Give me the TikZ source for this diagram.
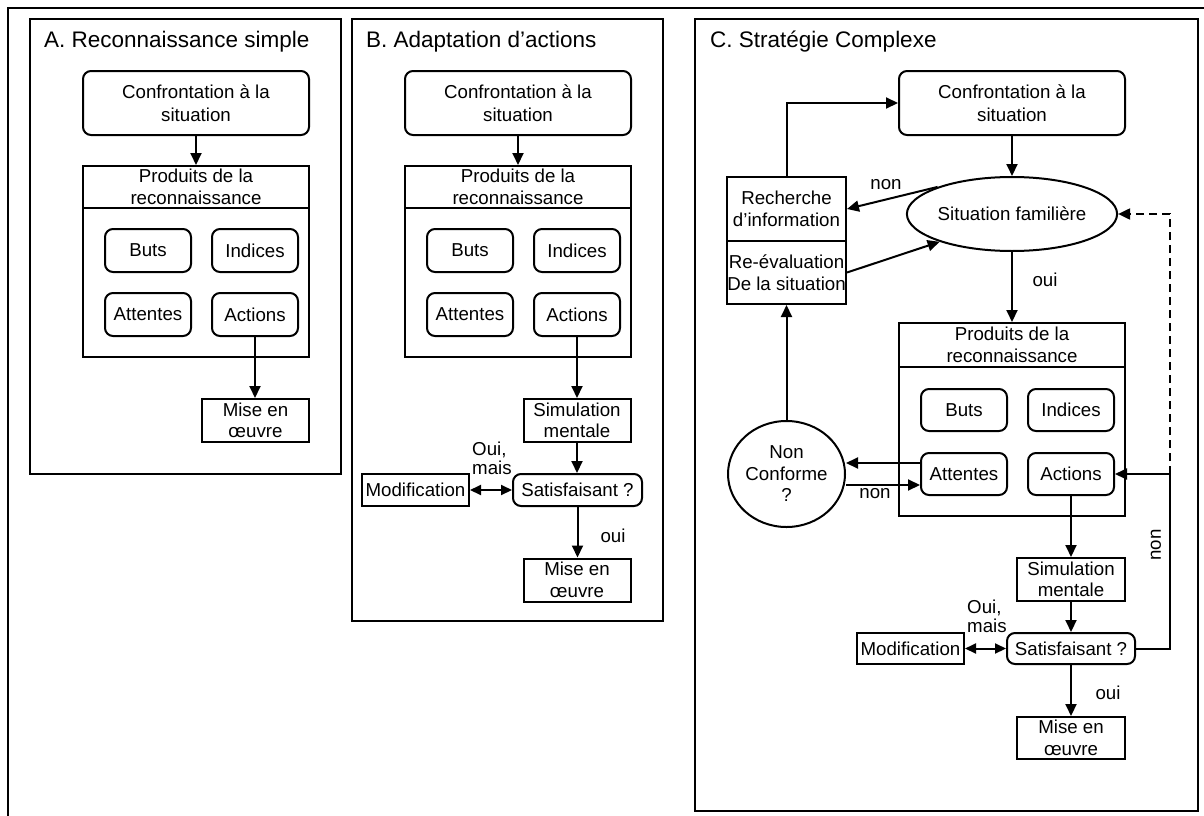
\documentclass[tikz,border=0pt]{standalone}
\usepackage{fontspec}
\setmainfont{Liberation Sans}
\usetikzlibrary{arrows.meta,shapes.geometric}
\newcommand\bfs{\fontsize{18.7}{21.5}\selectfont}
\newcommand\cfs{\fontsize{18.7}{23.5}\selectfont}
\newcommand\tfs{\fontsize{22.5}{27}\selectfont}
\begin{document}
\begin{tikzpicture}[x=1pt,y=-1pt,
  panel/.style={draw, line width=2pt},
  bx/.style={draw, line width=2pt, inner sep=0pt, align=center, font=\bfs},
  rbx/.style={bx, rounded corners=8pt},
  oval/.style={bx, ellipse},
  arr/.style={line width=2pt, -{Triangle[length=12pt,width=11pt]}},
  darr/.style={line width=2pt, {Triangle[length=11pt,width=10pt]}-{Triangle[length=11pt,width=10pt]}},
  lbl/.style={font=\bfs, inner sep=0pt, align=left},
  ttl/.style={font=\tfs, inner sep=0pt, anchor=base west},
  conf/.style={rbx, font=\cfs, minimum width=226pt, minimum height=64pt},
  small/.style={rbx, minimum width=86pt, minimum height=43pt},
  prod/.style={bx, minimum width=226pt},
  sq/.style={bx, minimum width=107pt, minimum height=43pt},
]
\useasboundingbox (0,0) rectangle (1204,816);
\fill[white] (0,0) rectangle (1204,816);
% outer frame
\draw[panel] (8,8) rectangle (1220,830);
% panels
\draw[panel] (30,19) rectangle (341,474);
\draw[panel] (352,19) rectangle (663,621);
\draw[panel] (695,19) rectangle (1198,811);
\node[ttl] (tA) at (44,48) {A. Reconnaissance simple};
\node[ttl] (tB) at (366,48) {B. Adaptation d’actions};
\node[ttl] (tC) at (710,48) {C. Stratégie Complexe};

% ---------- Panel A
\node[conf] (confA) at (196,103) {Confrontation à la\\situation};
\node[prod, minimum height=191pt] (prodA) at (196,261.5) {};
\draw[line width=2pt] ([yshift=-43pt]prodA.north west) -- ([yshift=-43pt]prodA.north east);
\node[lbl, align=center] (hA) at ([yshift=-22pt]prodA.north) {Produits de la\\reconnaissance};
\node[small] (butsA) at (148,250.5) {Buts};
\node[small] (indA) at (255,250.5) {Indices};
\node[small] (attA) at (148,314.5) {Attentes};
\node[small] (actA) at (255,314.5) {Actions};
\node[sq] (miseA) at (255.5,420.5) {Mise en\\œuvre};
\draw[arr] (confA) -- (prodA);
\draw[arr] (actA.south) -- (actA.south |- miseA.north);

% ---------- Panel B
\node[conf] (confB) at (518,103) {Confrontation à la\\situation};
\node[prod, minimum height=191pt] (prodB) at (518,261.5) {};
\draw[line width=2pt] ([yshift=-43pt]prodB.north west) -- ([yshift=-43pt]prodB.north east);
\node[lbl, align=center] (hB) at ([yshift=-22pt]prodB.north) {Produits de la\\reconnaissance};
\node[small] (butsB) at (470,250.5) {Buts};
\node[small] (indB) at (577,250.5) {Indices};
\node[small] (attB) at (470,314.5) {Attentes};
\node[small] (actB) at (577,314.5) {Actions};
\node[sq] (simB) at (577,420.5) {Simulation\\mentale};
\node[rbx, minimum width=129pt, minimum height=32pt] (satB) at (577.5,490) {Satisfaisant ?};
\node[sq, minimum height=32pt] (modB) at (415.5,490) {Modification};
\node[sq] (miseB) at (577,580) {Mise en\\œuvre};
\draw[arr] (confB) -- (prodB);
\draw[arr] (actB.south) -- (actB.south |- simB.north);
\draw[arr] (simB) -- (simB |- satB.north);
\draw[arr] (satB.south) -- (satB.south |- miseB.north);
\draw[darr] (modB) -- (satB);
\node[lbl, anchor=south west] (omB) at (472,475) {Oui,\\[-2pt]mais};
\node[lbl] (ouiB) at (613,536) {oui};

% ---------- Panel C
\node[conf] (confC) at (1012,103) {Confrontation à la\\situation};
\node[oval, minimum width=204pt, minimum height=74pt] (elC) at (1012,214) {Situation familière};
\node[bx, minimum width=119pt, minimum height=64pt] (rechC) at (786.5,209) {Recherche\\d’information};
\node[bx, minimum width=119pt, minimum height=63pt] (reevC) at (786.5,272.5) {Re-évaluation\\De la situation};
\node[prod, minimum height=193pt] (prodC) at (1012,419.5) {};
\draw[line width=2pt] ([yshift=-45pt]prodC.north west) -- ([yshift=-45pt]prodC.north east);
\node[lbl, align=center] (hC) at ([yshift=-23pt]prodC.north) {Produits de la\\reconnaissance};
\node[small, minimum height=42pt] (butsC) at (964,410) {Buts};
\node[small, minimum height=42pt] (indC) at (1071,410) {Indices};
\node[small, minimum height=42pt] (attC) at (964,474) {Attentes};
\node[small, minimum height=42pt] (actC) at (1071,474) {Actions};
\node[oval, minimum width=117pt, minimum height=106pt] (ncC) at (786.5,474) {Non\\Conforme\\?};
\node[sq, minimum width=108pt] (simC) at (1071,579.5) {Simulation\\mentale};
\node[rbx, minimum width=128pt, minimum height=31pt] (satC) at (1071,648.5) {Satisfaisant ?};
\node[sq, minimum height=31pt] (modC) at (910.5,648.5) {Modification};
\node[sq, minimum width=108pt, minimum height=42pt] (miseC) at (1071,738) {Mise en\\œuvre};
\coordinate (jR) at (1170,474);

\draw[arr] (confC) -- (elC);
\draw[arr] (rechC.north) |- (confC.west);
\draw[arr] (elC.160) -- (rechC.east);
\draw[arr] (reevC.east) -- (elC.201);
\draw[arr] (elC) -- (prodC);
\draw[arr] (ncC) -- (reevC);
\draw[arr] ([yshift=11pt]attC.west) -- ([yshift=11pt]attC.west -| ncC.east);
\draw[arr] ([yshift=-11pt]attC.west -| ncC.east) -- ([yshift=-11pt]attC.west);
\draw[arr] (actC) -- (simC);
\draw[arr] (simC) -- (satC);
\draw[arr] (satC) -- (miseC);
\draw[darr] (modC) -- (satC);
\draw[arr] (satC.east) -| (jR) -- (actC.east);
\draw[arr, dash pattern=on 8pt off 5pt] (jR) |- (elC.east);

\node[lbl] (nonC1) at (886,185) {non};
\node[lbl] (ouiC1) at (1045,280) {oui};
\node[lbl] (nonC2) at (875,494) {non};
\node[lbl, rotate=90] (nonC3) at (1156,545) {non};
\node[lbl, anchor=south west] (omC) at (967,633) {Oui,\\[-2pt]mais};
\node[lbl] (ouiC2) at (1108,693) {oui};
\end{tikzpicture}
\end{document}
